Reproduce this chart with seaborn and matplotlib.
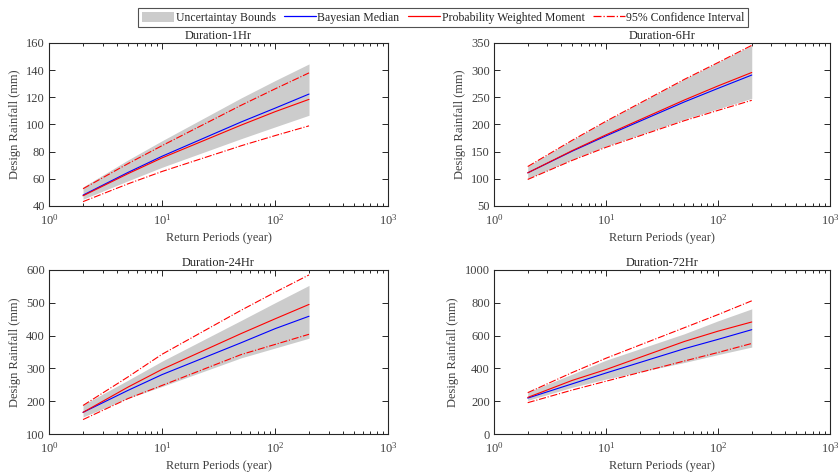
import numpy as np
import matplotlib
matplotlib.use("Agg")
import matplotlib.pyplot as plt
import seaborn as sns
from matplotlib.patches import Patch
from matplotlib.lines import Line2D

# return periods (years)
periods = [2, 5, 10, 50, 100, 200]

titles = ["Duration-1Hr", "Duration-6Hr", "Duration-24Hr", "Duration-72Hr"]

# Duration-1Hr
bayes_1 = [48, 64.7, 76.6, 101.8, 112, 122.4]
pwm_1 = [47.5, 63.8, 75.4, 99.5, 109.4, 118.5]
ci_hi_1 = [52.7, 71.2, 84.4, 114.1, 126.2, 138]
ci_lo_1 = [43.2, 56.3, 65.4, 84.3, 91.8, 99]
band_hi_1 = [54, 73.9, 88, 119.5, 132.3, 144.6]
band_lo_1 = [45, 58.5, 68.5, 89.5, 98.2, 106.8]

# Duration-6Hr
bayes_6 = [111, 151, 179, 241.5, 266.5, 291]
pwm_6 = [111, 152, 181, 245, 271, 295.7]
ci_hi_6 = [122.6, 171, 206, 283, 314, 345.7]
ci_lo_6 = [98.8, 134, 158, 207, 226, 244.5]
band_hi_6 = [123, 171.5, 206.5, 283.5, 314.5, 346]
band_lo_6 = [100, 136, 160, 209.5, 229, 248]

# Duration-24Hr
bayes_24 = [166, 233, 281, 378, 421, 459]
pwm_24 = [166, 243, 297, 406, 451, 495]
ci_hi_24 = [187, 274, 343, 477, 532, 585]
ci_lo_24 = [144, 208, 248, 342, 373, 404]
band_hi_24 = [189, 264, 322, 446, 500, 553]
band_lo_24 = [152, 209, 245, 332, 362, 392]

# Duration-72Hr
bayes_72 = [219, 306, 372, 520, 577, 636]
pwm_72 = [223, 327, 393, 564, 627, 683]
ci_hi_72 = [252, 375, 462, 648, 728, 812]
ci_lo_72 = [191, 268, 322, 445, 497, 552]
band_hi_72 = [256, 365, 450, 611, 690, 763]
band_lo_72 = [205, 285, 335, 436, 484, 530]

panels = [
    (bayes_1, pwm_1, ci_hi_1, ci_lo_1, band_hi_1, band_lo_1),
    (bayes_6, pwm_6, ci_hi_6, ci_lo_6, band_hi_6, band_lo_6),
    (bayes_24, pwm_24, ci_hi_24, ci_lo_24, band_hi_24, band_lo_24),
    (bayes_72, pwm_72, ci_hi_72, ci_lo_72, band_hi_72, band_lo_72),
]
y_limits = [(40, 160), (50, 350), (100, 600), (0, 1000)]
y_steps = [20, 50, 100, 200]

sns.set_style("ticks")
plt.rcParams["font.family"] = ["Liberation Serif", "DejaVu Serif"]
plt.rcParams["mathtext.fontset"] = "custom"
plt.rcParams["mathtext.rm"] = "Liberation Serif"
plt.rcParams["mathtext.it"] = "Liberation Serif:italic"
plt.rcParams["mathtext.default"] = "regular"

fig = plt.figure(figsize=(8.38, 4.72), dpi=100)
positions = [
    [0.0585, 0.5636, 0.4045, 0.3453],
    [0.5895, 0.5636, 0.4010, 0.3453],
    [0.0585, 0.0805, 0.4045, 0.3475],
    [0.5895, 0.0805, 0.4010, 0.3475],
]

grey = "#404040"
for i, (pos, data) in enumerate(zip(positions, panels)):
    bayes, pwm, ci_hi, ci_lo, band_hi, band_lo = data
    ax = fig.add_axes(pos)
    ax.fill_between(periods, band_lo, band_hi, color="#cccccc", linewidth=0)
    sns.lineplot(x=periods, y=bayes, ax=ax, color="blue", linewidth=0.8)
    sns.lineplot(x=periods, y=pwm, ax=ax, color="red", linewidth=0.8)
    sns.lineplot(x=periods, y=ci_hi, ax=ax, color="red", linewidth=0.8, linestyle="-.")
    sns.lineplot(x=periods, y=ci_lo, ax=ax, color="red", linewidth=0.8, linestyle="-.")
    ax.set_xscale("log")
    ax.set_xlim(1, 1000)
    lo, hi = y_limits[i]
    ax.set_ylim(lo, hi)
    ax.set_yticks(np.arange(lo, hi + 1, y_steps[i]))
    ax.tick_params(which="both", direction="in", top=True, right=True,
                   labelsize=9, labelcolor=grey, width=0.7)
    ax.tick_params(axis="x", which="both", pad=5)
    ax.tick_params(axis="y", which="both", pad=3)
    ax.tick_params(which="major", length=4)
    ax.tick_params(which="minor", length=2)
    for sp in ax.spines.values():
        sp.set_linewidth(0.8)
        sp.set_color("#262626")
    ax.set_title(titles[i], fontsize=8.8, pad=3)
    ax.set_xlabel("Return Periods (year)", fontsize=8.8, color=grey, labelpad=3)
    ax.set_ylabel("Design Rainfall (mm)", fontsize=9, color=grey, labelpad=4)

handles = [
    Patch(facecolor="#cccccc", edgecolor="none"),
    Line2D([], [], color="blue", linewidth=0.9),
    Line2D([], [], color="red", linewidth=0.9),
    Line2D([], [], color="red", linewidth=0.9, linestyle="-."),
]
labels = ["Uncertaintay Bounds", "Bayesian Median",
          "Probability Weighted Moment", "95% Confidence Interval"]
leg = fig.legend(handles, labels, loc="upper center", bbox_to_anchor=(0.529, 0.995),
                 ncol=4, fontsize=8.5, frameon=True, fancybox=False,
                 handlelength=2.7, handletextpad=0.15, columnspacing=0.7,
                 borderpad=0.3, handleheight=0.9)
leg.get_frame().set_edgecolor("#262626")
leg.get_frame().set_linewidth(0.8)

fig.savefig("out.png", dpi=100)
